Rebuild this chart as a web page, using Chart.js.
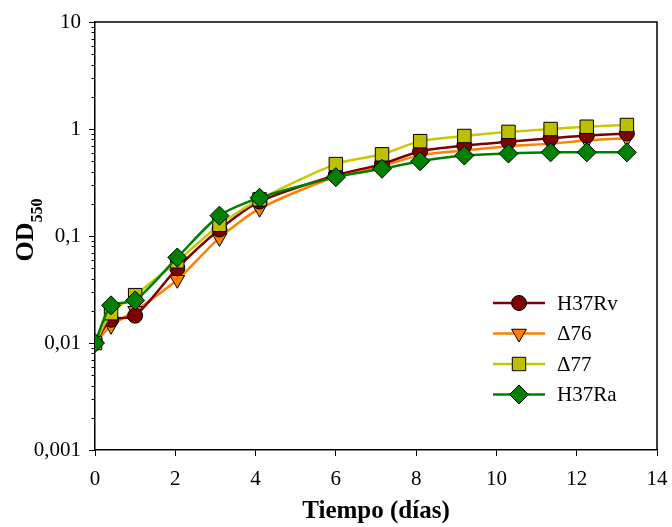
<!DOCTYPE html>
<html>
<head>
<meta charset="utf-8">
<script src="https://cdn.jsdelivr.net/npm/chart.js@4.4.1/dist/chart.umd.min.js"></script>
<style>
  html, body { margin: 0; padding: 0; background: #fff; }
  #wrap { width: 672px; height: 527px; }
</style>
</head>
<body>
<div id="wrap"><canvas id="growthChart" width="672" height="527"></canvas></div>
<script>
// Data
const days = [0, 0.4, 1, 2.05, 3.1, 4.1, 6, 7.15, 8.1, 9.2, 10.3, 11.35, 12.25, 13.25];
const h37rv = [0.01, 0.0165, 0.018, 0.05, 0.115, 0.21, 0.37, 0.47, 0.62, 0.7, 0.76, 0.82, 0.87, 0.91];
const d76 = [0.01, 0.0145, 0.02, 0.039, 0.096, 0.18, 0.36, 0.45, 0.57, 0.63, 0.69, 0.73, 0.78, 0.82];
const d77 = [0.01, 0.019, 0.028, 0.058, 0.127, 0.22, 0.47, 0.58, 0.77, 0.86, 0.94, 1.0, 1.05, 1.09];
const h37ra = [0.01, 0.0225, 0.025, 0.063, 0.155, 0.228, 0.355, 0.425, 0.5, 0.565, 0.59, 0.605, 0.605, 0.605];
const seriesNames = ["H37Rv", "\u039476", "\u039477", "H37Ra"];
const yTicks = [0.001, 0.01, 0.1, 1, 10];

const FONT = "'Liberation Serif', 'Times New Roman', serif";

const styles = [
    { line: "#800000", fill: "#800000", point: "circle", radius: 7.5, rotation: 0, order: 2 },
    { line: "#ff8000", fill: "#ff8000", point: "triangle", radius: 8.5, rotation: 180, order: 3 },
    { line: "#c8c800", fill: "#bfbf00", point: "rect", radius: 9.5, rotation: 0, order: 1 },
    { line: "#008000", fill: "#008000", point: "rectRot", radius: 9.5, rotation: 0, order: 0 }
];

const toPoints = vals => vals.map((v, i) => ({ x: days[i], y: v }));

const datasets = [h37rv, d76, d77, h37ra].map((vals, i) => ({
    label: seriesNames[i],
    data: toPoints(vals),
    borderColor: styles[i].line,
    borderWidth: 2.5,
    backgroundColor: styles[i].fill,
    pointBackgroundColor: styles[i].fill,
    pointBorderColor: "#000",
    pointBorderWidth: 1,
    pointStyle: styles[i].point,
    pointRadius: styles[i].radius,
    pointRotation: styles[i].rotation,
    tension: 0.25,
    order: styles[i].order
}));

// 🔹 frame, minor ticks, y title and legend
const extras = {
    id: "extras",
    afterDraw(chart) {
        const ctx = chart.ctx;
        const a = chart.chartArea;
        const ys = chart.scales.y;
        ctx.save();
        ctx.strokeStyle = "#000";
        ctx.lineWidth = 1.5;
        ctx.beginPath();
        ctx.moveTo(a.left, a.top);
        ctx.lineTo(a.right, a.top);
        ctx.lineTo(a.right, a.bottom);
        ctx.stroke();

        // minor log ticks
        ctx.lineWidth = 1;
        ctx.beginPath();
        for (let d = -3; d < 1; d++) {
            for (let k = 2; k < 10; k++) {
                const py = Math.round(ys.getPixelForValue(k * Math.pow(10, d))) + 0.5;
                ctx.moveTo(a.left - 3.5, py);
                ctx.lineTo(a.left, py);
            }
        }
        ctx.stroke();

        // OD550 title
        ctx.fillStyle = "#000";
        ctx.translate(27, (a.top + a.bottom) / 2 - 6);
        ctx.rotate(-Math.PI / 2);
        ctx.font = "bold 26px " + FONT;
        const w1 = ctx.measureText("OD").width;
        ctx.font = "bold 16px " + FONT;
        const w2 = ctx.measureText("550").width;
        const x0 = -(w1 + w2) / 2;
        ctx.textBaseline = "alphabetic";
        ctx.font = "bold 26px " + FONT;
        ctx.fillText("OD", x0, 6);
        ctx.font = "bold 16px " + FONT;
        ctx.fillText("550", x0 + w1, 15);
        ctx.restore();

        // legend
        ctx.save();
        const lx = a.left + 398;
        const ly = a.top + 281;
        const gap = 30.5;
        chart.data.datasets.forEach((ds, i) => {
            const y = ly + i * gap;
            ctx.strokeStyle = ds.borderColor;
            ctx.lineWidth = 2.5;
            ctx.beginPath();
            ctx.moveTo(lx, y);
            ctx.lineTo(lx + 52, y);
            ctx.stroke();
            ctx.fillStyle = ds.pointBackgroundColor;
            ctx.strokeStyle = "#000";
            ctx.lineWidth = 1;
            Chart.helpers.drawPoint(ctx, {
                pointStyle: ds.pointStyle,
                radius: ds.pointRadius,
                rotation: ds.pointRotation,
                borderWidth: 1
            }, lx + 26, y);
            ctx.fillStyle = "#000";
            ctx.font = "21px " + FONT;
            ctx.textBaseline = "middle";
            ctx.fillText(ds.label, lx + 64, y + 1);
        });
        ctx.restore();
    }
};

new Chart(document.getElementById("growthChart").getContext("2d"), {
    type: "line",
    data: { datasets },
    options: {
        responsive: false,
        animation: false,
        devicePixelRatio: 1,
        layout: { padding: { top: 22, right: 15, left: 0, bottom: 0 } },
        plugins: { legend: { display: false }, tooltip: { enabled: false } },
        scales: {
            x: {
                type: "linear",
                min: 0,
                max: 14,
                ticks: { stepSize: 2, color: "#000", font: { family: FONT, size: 21 }, padding: 11, maxRotation: 0 },
                grid: { display: true, drawOnChartArea: false, tickLength: 6, color: "#000", lineWidth: 1 },
                border: { color: "#000", width: 1.5 },
                title: { display: true, text: "Tiempo (d\u00edas)", color: "#000", font: { family: FONT, size: 25, weight: "bold" }, padding: { top: 2, bottom: 0 } },
                afterFit: s => { s.height = 77; s.paddingLeft = 0; s.paddingRight = 0; }
            },
            y: {
                type: "logarithmic",
                min: 0.001,
                max: 10,
                afterBuildTicks: s => { s.ticks = yTicks.map(v => ({ value: v })); },
                ticks: {
                    color: "#000",
                    font: { family: FONT, size: 21 },
                    padding: 8,
                    callback: v => String(v).replace(".", ",")
                },
                grid: { display: true, drawOnChartArea: false, tickLength: 6, color: "#000", lineWidth: 1 },
                border: { color: "#000", width: 1.5 },
                afterFit: s => { s.width = 95; }
            }
        }
    },
    plugins: [extras]
});
</script>
</body>
</html>
